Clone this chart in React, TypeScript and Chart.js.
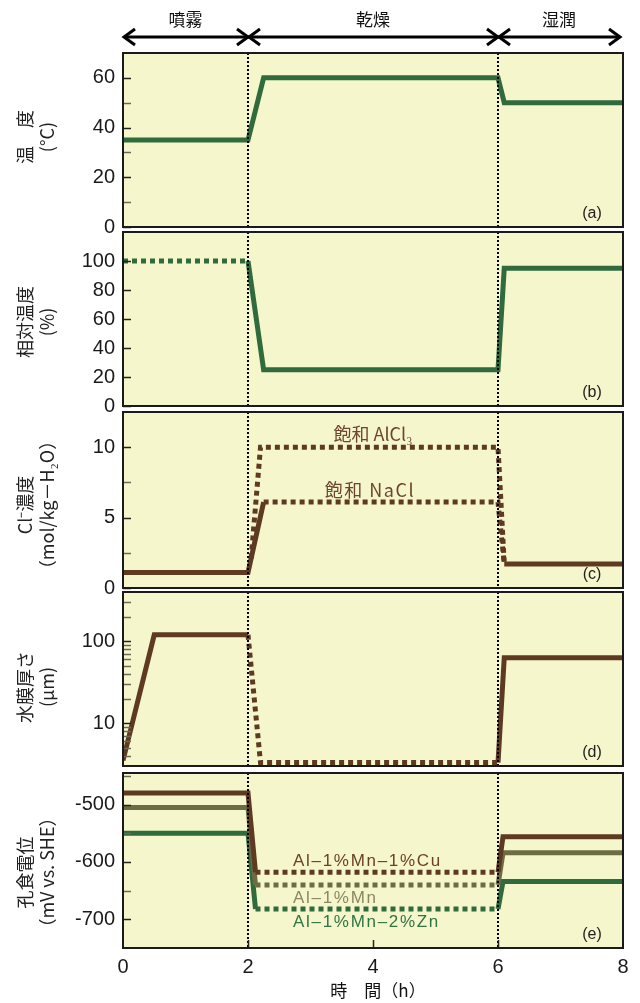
import React, { useEffect, useRef } from "react";
import { Chart, registerables } from "chart.js";
Chart.register(...registerables);

const GREEN = "#2f6b3c";
const BROWN = "#5f3a22";
const OLIVE = "#6e6c43";
const BG = "#f6f6cc";
const INK = "#1a1a1a";

// ---------- data ----------
const phaseLabels = ["噴霧", "乾燥", "湿潤"];
const phaseBounds = [0, 2, 6, 8];
const xTickValues = [0, 2, 4, 6, 8];

// (a) temperature
const tempTime = [0, 2, 2.25, 6, 6.1, 8];
const tempValue = [35, 35, 60, 60, 50, 50];
const tempTicks = [0, 20, 40, 60];
const tempMinor = [10, 30, 50];

// (b) relative humidity
const rhSprayTime = [0, 2];
const rhSprayValue = [100, 100];
const rhTime = [2, 2.25, 6, 6.1, 8];
const rhValue = [100, 25, 25, 95, 95];
const rhTicks = [0, 20, 40, 60, 80, 100];

// (c) Cl- concentration
const clRiseTime = [0, 2, 2.25];
const clRiseValue = [1.1, 1.1, 6.1];
const naclTime = [2.25, 6, 6.1];
const naclValue = [6.1, 6.1, 1.7];
const alcl3Time = [2.05, 2.2, 6, 6.1];
const alcl3Value = [2.1, 10, 10, 1.7];
const clWetTime = [6.1, 8];
const clWetValue = [1.7, 1.7];
const clTicks = [0, 5, 10];
const clMinor = [2.5, 7.5];

// (d) water film thickness
const filmSprayTime = [0, 0.5, 2];
const filmSprayValue = [3.5, 120, 120];
const filmDryTime = [2, 2.2, 6];
const filmDryValue = [120, 3.3, 3.3];
const filmWetTime = [6, 6.1, 8];
const filmWetValue = [3.3, 63, 63];
const filmTicks = [10, 100];
const filmMinor = [4, 5, 6, 7, 8, 9, 20, 30, 40, 50, 60, 70, 80, 90, 200, 300];

// (e) pitting potential
const potSprayTime = [0, 2, 2.12];
const potDryTime = [2.12, 6];
const potWetTime = [6, 6.08, 8];
const cuSpray = [-480, -480, -618];
const cuDry = [-618, -618];
const cuWet = [-618, -556, -556];
const mnSpray = [-505, -505, -640];
const mnDry = [-640, -640];
const mnWet = [-640, -584, -584];
const znSpray = [-550, -550, -682];
const znDry = [-682, -682];
const znWet = [-682, -634, -634];
const potTicks = [-700, -600, -500];
const potMinor = [-650, -550, -450];

// ---------- layout ----------
const panelTops = [53, 232, 412, 592, 773];
const panelBottoms = [227, 406, 588, 766, 948];
const AREA_LEFT = 123;
const AREA_RIGHT = 623;
const W = 640;
const H = 1003;

const pts = (t: number[], v: number[]) => t.map((x, i) => ({ x, y: v[i] }));

type Ser = { t: number[]; v: number[]; color: string; dotted?: boolean };
type Ann = { text: string; x: number; y: number; color: string; align: CanvasTextAlign; font: string; spacing?: string };
type Spec = {
  idx: number;
  letter: string;
  yType: "linear" | "logarithmic";
  yMin: number;
  yMax: number;
  ticks: number[];
  minor: number[];
  title: string[];
  titleDy: number;
  series: Ser[];
  anns: Ann[];
};

const specs: Spec[] = [
  {
    idx: 0, letter: "(a)", yType: "linear", yMin: 0, yMax: 70, ticks: tempTicks, minor: tempMinor,
    title: ["温　度", "(°C)"], titleDy: -3,
    series: [{ t: tempTime, v: tempValue, color: GREEN }],
    anns: [],
  },
  {
    idx: 1, letter: "(b)", yType: "linear", yMin: 0, yMax: 120, ticks: rhTicks, minor: [],
    title: ["相対温度", "(%)"], titleDy: 3,
    series: [
      { t: rhSprayTime, v: rhSprayValue, color: GREEN, dotted: true },
      { t: rhTime, v: rhValue, color: GREEN },
    ],
    anns: [],
  },
  {
    idx: 2, letter: "(c)", yType: "linear", yMin: 0, yMax: 12.5, ticks: clTicks, minor: clMinor,
    title: ["Cl⁻濃度", "（mol/kg－H₂O）"], titleDy: 5,
    series: [
      { t: alcl3Time, v: alcl3Value, color: BROWN, dotted: true },
      { t: naclTime, v: naclValue, color: BROWN, dotted: true },
      { t: clRiseTime, v: clRiseValue, color: BROWN },
      { t: clWetTime, v: clWetValue, color: BROWN },
    ],
    anns: [
      { text: "飽和 AlCl₃", x: 4.0, y: 10.9, color: "#6b4530", align: "center", font: "18px 'Noto Sans CJK JP'" },
      { text: "飽和 NaCl", x: 3.95, y: 6.95, color: "#6b4530", align: "center", font: "18px 'Noto Sans CJK JP'", spacing: "1.5px" },
    ],
  },
  {
    idx: 3, letter: "(d)", yType: "logarithmic", yMin: 3, yMax: 400, ticks: filmTicks, minor: filmMinor,
    title: ["水膜厚さ", "(μm)"], titleDy: 8,
    series: [
      { t: filmDryTime, v: filmDryValue, color: BROWN, dotted: true },
      { t: filmSprayTime, v: filmSprayValue, color: BROWN },
      { t: filmWetTime, v: filmWetValue, color: BROWN },
    ],
    anns: [],
  },
  {
    idx: 4, letter: "(e)", yType: "linear", yMin: -750, yMax: -445, ticks: potTicks, minor: potMinor,
    title: ["孔食電位", "（mV vs. SHE）"], titleDy: 12,
    series: [
      { t: potSprayTime, v: cuSpray, color: BROWN },
      { t: potDryTime, v: cuDry, color: BROWN, dotted: true },
      { t: potWetTime, v: cuWet, color: BROWN },
      { t: potSprayTime, v: mnSpray, color: OLIVE },
      { t: potDryTime, v: mnDry, color: OLIVE, dotted: true },
      { t: potWetTime, v: mnWet, color: OLIVE },
      { t: potSprayTime, v: znSpray, color: GREEN },
      { t: potDryTime, v: znDry, color: GREEN, dotted: true },
      { t: potWetTime, v: znWet, color: GREEN },
    ],
    anns: [
      { text: "Al–1%Mn–1%Cu", x: 2.72, y: -599, color: "#6b4028", align: "left", font: "17px 'Liberation Sans'", spacing: "1.7px" },
      { text: "Al–1%Mn", x: 2.72, y: -663, color: "#8a8862", align: "left", font: "17px 'Liberation Sans'", spacing: "1.7px" },
      { text: "Al–1%Mn–2%Zn", x: 2.72, y: -705, color: "#2f7644", align: "left", font: "17px 'Liberation Sans'", spacing: "1.7px" },
    ],
  },
];

function arrowHead(ctx: CanvasRenderingContext2D, x: number, y: number, dir: number) {
  ctx.beginPath();
  ctx.moveTo(x - dir * 11, y - 8);
  ctx.lineTo(x, y);
  ctx.lineTo(x - dir * 11, y + 8);
  ctx.stroke();
}

function Panel({ spec }: { spec: Spec }) {
  const ref = useRef<HTMLCanvasElement | null>(null);
  const isFirst = spec.idx === 0;
  const isLast = spec.idx === specs.length - 1;
  const top = panelTops[spec.idx];
  const bottom = panelBottoms[spec.idx];
  const canvasTop = isFirst ? 0 : top - 10;
  const canvasBottom = isLast ? H : bottom + 14;
  const canvasH = canvasBottom - canvasTop;
  const padTop = top - canvasTop;
  const xAxisH = 55;
  const padBottom = isLast ? canvasBottom - bottom - xAxisH : canvasBottom - bottom;

  useEffect(() => {
    if (!ref.current) return;
    const deco = {
      id: "deco" + spec.idx,
      beforeDraw(chart: any) {
        const { ctx, chartArea: a } = chart;
        ctx.save();
        ctx.fillStyle = BG;
        ctx.fillRect(a.left, a.top, a.right - a.left, a.bottom - a.top);
        ctx.restore();
      },
      afterDatasetsDraw(chart: any) {
        const { ctx, chartArea: a } = chart;
        const xs = chart.scales.x;
        const ys = chart.scales.y;
        ctx.save();
        // phase boundaries
        ctx.strokeStyle = "#000";
        ctx.lineWidth = 2;
        ctx.setLineDash([2, 2]);
        [phaseBounds[1], phaseBounds[2]].forEach((b) => {
          const px = Math.round(xs.getPixelForValue(b));
          ctx.beginPath();
          ctx.moveTo(px, a.top);
          ctx.lineTo(px, a.bottom);
          ctx.stroke();
        });
        ctx.setLineDash([]);
        // inward y ticks
        ctx.lineWidth = 1.5;
        const tick = (v: number, col: string) => {
          const py = Math.round(ys.getPixelForValue(v)) + 0.5;
          ctx.strokeStyle = col;
          ctx.beginPath();
          ctx.moveTo(a.left, py);
          ctx.lineTo(a.left + 8, py);
          ctx.stroke();
        };
        spec.ticks.forEach((v) => tick(v, "#222"));
        spec.minor.forEach((v) => tick(v, "#6a6a5a"));
        if (isLast) {
          ctx.strokeStyle = "#222";
          xTickValues.slice(1, -1).forEach((v) => {
            const px = Math.round(xs.getPixelForValue(v)) + 0.5;
            ctx.beginPath();
            ctx.moveTo(px, a.bottom);
            ctx.lineTo(px, a.bottom - 8);
            ctx.stroke();
          });
        }
        // frame
        ctx.strokeStyle = INK;
        ctx.lineWidth = 2;
        ctx.strokeRect(a.left, a.top, a.right - a.left, a.bottom - a.top);
        // letter
        ctx.fillStyle = "#222";
        ctx.font = "16px 'Liberation Sans'";
        ctx.textAlign = "center";
        ctx.textBaseline = "middle";
        ctx.fillText(spec.letter, a.right - 31, a.bottom - 13);
        // annotations
        spec.anns.forEach((n) => {
          ctx.fillStyle = n.color;
          ctx.font = n.font;
          ctx.textAlign = n.align;
          ctx.textBaseline = "middle";
          (ctx as any).letterSpacing = n.spacing || "0px";
          ctx.fillText(n.text, xs.getPixelForValue(n.x), ys.getPixelForValue(n.y));
          (ctx as any).letterSpacing = "0px";
        });
        // y title
        const cy = (a.top + a.bottom) / 2 + spec.titleDy;
        ctx.fillStyle = "#222";
        ctx.font = "18px 'Noto Sans CJK JP'";
        ctx.textAlign = "center";
        ctx.textBaseline = "middle";
        [25, 47].forEach((cx, i) => {
          ctx.save();
          ctx.translate(cx, cy);
          ctx.rotate(-Math.PI / 2);
          ctx.fillText(spec.title[i], 0, 0);
          ctx.restore();
        });
        // phase arrows
        if (isFirst) {
          const ay = 37;
          ctx.strokeStyle = "#000";
          ctx.lineWidth = 3;
          ctx.lineJoin = "miter";
          const bx = phaseBounds.map((b) => xs.getPixelForValue(b));
          bx[bx.length - 1] -= 3;
          ctx.beginPath();
          ctx.moveTo(bx[0] + 1, ay);
          ctx.lineTo(bx[bx.length - 1], ay);
          ctx.stroke();
          for (let i = 0; i < bx.length - 1; i++) {
            arrowHead(ctx, bx[i] + 1, ay, -1);
            arrowHead(ctx, bx[i + 1], ay, 1);
            ctx.fillStyle = "#111";
            ctx.font = "17px 'Noto Sans CJK JP'";
            ctx.textAlign = "center";
            ctx.textBaseline = "middle";
            ctx.fillText(phaseLabels[i], (bx[i] + bx[i + 1]) / 2, 20);
          }
        }
        if (isLast) {
          ctx.fillStyle = "#111";
          ctx.font = "17px 'Noto Sans CJK JP'";
          ctx.textAlign = "center";
          ctx.textBaseline = "middle";
          ctx.fillText("時　間（h）", (a.left + a.right) / 2 + 5, 991 - canvasTop);
        }
        ctx.restore();
      },
    };

    const chart = new Chart(ref.current, {
      type: "line",
      data: {
        datasets: spec.series.map((s) => ({
          data: pts(s.t, s.v),
          borderColor: s.color,
          borderWidth: 5,
          borderDash: s.dotted ? [5, 4] : [],
          borderCapStyle: "butt",
          borderJoinStyle: "miter",
          pointRadius: 0,
          fill: false,
          tension: 0,
        })),
      },
      options: {
        animation: false,
        responsive: false,
        maintainAspectRatio: false,
        devicePixelRatio: 1,
        events: [],
        layout: { padding: { top: padTop, bottom: padBottom, left: 0, right: W - AREA_RIGHT } },
        plugins: { legend: { display: false }, tooltip: { enabled: false }, title: { display: false } },
        scales: {
          x: {
            type: "linear",
            min: 0,
            max: 8,
            display: isLast,
            grid: { display: false, drawTicks: false, tickLength: 0 },
            border: { display: false },
            ticks: { color: INK, font: { family: "'Liberation Sans'", size: 20 }, padding: 7, autoSkip: false, maxRotation: 0 },
            afterBuildTicks: (s: any) => { s.ticks = xTickValues.map((v) => ({ value: v })); },
            afterFit: (s: any) => {
              s.height = isLast ? xAxisH : 0;
              s.paddingLeft = 0;
              s.paddingRight = 0;
            },
          },
          y: {
            type: spec.yType,
            min: spec.yMin,
            max: spec.yMax,
            grid: { display: false, drawTicks: false, tickLength: 0 },
            border: { display: false },
            ticks: {
              color: INK,
              font: { family: "'Liberation Sans'", size: 20 },
              padding: 8,
              autoSkip: false,
              callback: (v: any) => String(v),
            },
            afterBuildTicks: (s: any) => { s.ticks = spec.ticks.map((v) => ({ value: v })); },
            afterFit: (s: any) => {
              s.width = AREA_LEFT;
              s.paddingTop = 0;
              s.paddingBottom = 0;
            },
          },
        },
      } as any,
      plugins: [deco],
    });
    return () => chart.destroy();
  }, []);

  return (
    <canvas
      ref={ref}
      width={W}
      height={canvasH}
      style={{ position: "absolute", left: 0, top: canvasTop, width: W, height: canvasH }}
    />
  );
}

export default function App() {
  useEffect(() => {
    document.body.style.margin = "0";
  }, []);
  return (
    <div style={{ position: "absolute", left: 0, top: 0, width: W, height: H, background: "#fff", overflow: "hidden" }}>
      {specs.map((s) => (
        <Panel key={s.idx} spec={s} />
      ))}
    </div>
  );
}
